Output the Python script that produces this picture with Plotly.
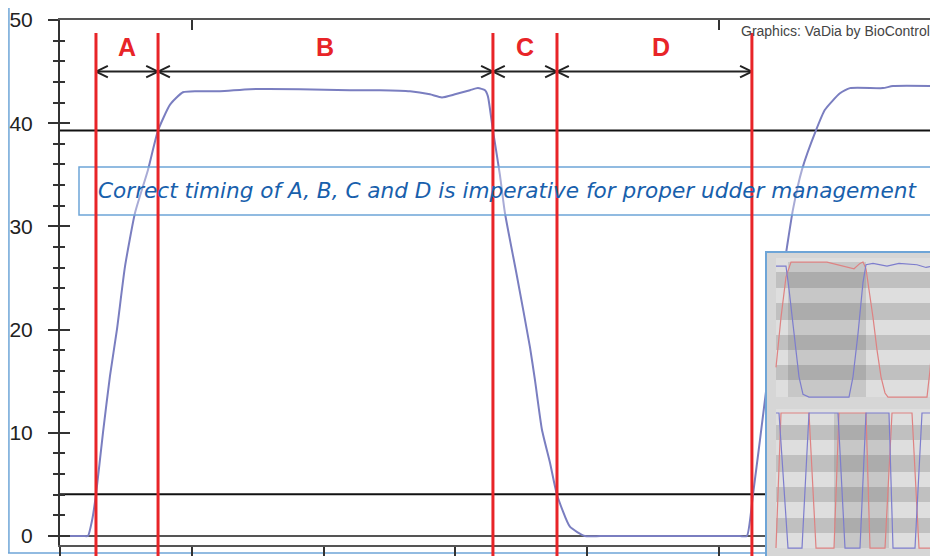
import plotly.graph_objects as go

# main trace: flow value over time (x in chart units, 10 per major tick)
time = [0, 1.0, 1.8, 2.12, 2.43, 2.73, 3.26, 3.79, 4.32, 4.93, 5.69, 6.68, 7.44, 8.35, 9.33,
        10.39, 12.14, 14.42, 18.21, 22.0, 24.28, 26.56, 28.07, 28.98, 29.97, 31.11,
        31.71, 32.25, 32.47, 32.85, 33.38, 33.76, 34.67, 35.66, 36.04, 36.57, 37.18,
        37.71, 38.69, 39.83, 41.0, 44.0, 48.0, 50.5, 51.6, 52.12, 52.58, 53.11, 54.02,
        55.16, 55.61, 56.30, 57.36, 58.04, 59.18, 59.94, 62.44, 63.20, 66.62]
value = [0, 0, 0, 0, 1.5, 4.0, 10.0, 15.5, 20.0, 26.1, 31.3, 35.5, 39.3, 41.8, 43.0,
         43.1, 43.1, 43.3, 43.3, 43.2, 43.2, 43.1, 42.8, 42.5, 42.8, 43.2,
         43.4, 43.2, 42.6, 39.3, 35.0, 31.3, 25.2, 18.3, 15.1, 10.3, 7.1,
         4.0, 0.9, 0, 0, 0, 0, 0, 0, 0, 4.0, 9.3, 18.5,
         28.0, 31.6, 35.5, 39.3, 41.3, 42.9, 43.4, 43.4, 43.6, 43.6]

phase_bounds = [2.73, 7.44, 32.85, 37.71, 52.5]
phase_names = ["A", "B", "C", "D"]
phase_label_x = [5.08, 20.1, 35.3, 45.6]
thresholds = [39.3, 4.05]

x_max = 66.62
y_min, y_max = -0.87, 50

# inset thumbnail (two small panels), x in inset units
top_x_red = [9, 14, 19, 24, 60, 87, 93, 96, 99, 103, 106, 110, 114, 118, 121, 160, 163, 166, 171]
top_y_red = [22, 59, 89, 100, 100, 95, 99, 100, 95, 75, 59, 35, 15, 3, 0, 0, 20, 47, 90]
top_x_blue = [9, 19, 22, 27, 32, 36, 42, 82, 86, 91, 96, 99, 106, 120, 132, 150, 159, 171]
top_y_blue = [97, 97, 80, 45, 15, 2, 0, 0, 15, 47, 85, 98, 99, 97, 99, 98, 96, 98]
bot_x_red = [9, 14, 42, 49, 67, 72, 99, 103, 118, 125, 145, 152, 171]
bot_y_red = [0, 100, 100, 0, 0, 100, 100, 0, 0, 100, 100, 0, 0]
bot_x_blue = [9, 12, 21, 35, 42, 71, 78, 93, 99, 122, 126, 148, 155, 171]
bot_y_blue = [100, 100, 0, 0, 100, 100, 0, 0, 100, 100, 0, 0, 100, 100]
top_bands = [[12.6, 23.7], [34.8, 45.9], [57.0, 69.6], [80.7, 92.6]]
bot_bands = [[11.1, 22.2], [34.1, 45.2], [56.3, 68.9], [80.0, 91.1]]
top_shade = [21, 99]
bot_shade = [67, 122]

RED = "rgb(232,36,40)"
BORDER = "rgb(110,165,215)"

# page has an 8px body margin, so the figure is 930x548 placed at (8, 8)
W, H = 930, 548


def fx(px):
    return (px - 8) / W


def fy(py):
    return (556 - py) / H


fig = go.Figure()

fig.add_trace(go.Scatter(
    x=time, y=value, mode="lines",
    line=dict(color="rgb(122,126,192)", width=2, shape="spline", smoothing=0.5),
    hoverinfo="skip", showlegend=False
))

# double-headed arrows between phase boundaries
arrow_y, dx, dy = 45.0, 0.9, 0.55
ax, ay = [], []
for x0, x1 in zip(phase_bounds[:-1], phase_bounds[1:]):
    ax += [x0, x1, None, x0 + dx, x0, x0 + dx, None, x1 - dx, x1, x1 - dx, None]
    ay += [arrow_y, arrow_y, None, arrow_y + dy, arrow_y, arrow_y - dy, None,
           arrow_y + dy, arrow_y, arrow_y - dy, None]
fig.add_trace(go.Scatter(x=ax, y=ay, mode="lines", line=dict(color="#222", width=2),
                         hoverinfo="skip", showlegend=False))

# empty traces for the overlay axes (inside ticks)
fig.add_trace(go.Scatter(x=[None], y=[None], yaxis="y2", showlegend=False))
fig.add_trace(go.Scatter(x=[None], y=[None], xaxis="x5", showlegend=False))

# inset curves
for xs, ys, c, xa, ya in [
    (top_x_red, top_y_red, "rgb(222,130,130)", "x3", "y3"),
    (top_x_blue, top_y_blue, "rgb(125,125,205)", "x3", "y3"),
    (bot_x_red, bot_y_red, "rgb(222,130,130)", "x4", "y4"),
    (bot_x_blue, bot_y_blue, "rgb(125,125,205)", "x4", "y4"),
]:
    fig.add_trace(go.Scatter(x=xs, y=ys, mode="lines", xaxis=xa, yaxis=ya,
                             line=dict(color=c, width=1.2),
                             hoverinfo="skip", showlegend=False))

shapes = []
for t in thresholds:
    shapes.append(dict(type="line", xref="x", yref="y", x0=0, x1=x_max, y0=t, y1=t,
                       line=dict(color="#111", width=2), layer="below"))

# callout box
shapes.append(dict(type="rect", xref="paper", yref="paper",
                   x0=fx(79), x1=fx(934), y0=fy(215), y1=fy(167),
                   fillcolor="rgba(255,255,255,0.35)", line=dict(color=BORDER, width=1.5),
                   layer="above"))

for b in phase_bounds:
    shapes.append(dict(type="line", xref="x", yref="paper", x0=b, x1=b,
                       y0=0, y1=fy(33), line=dict(color=RED, width=3),
                       layer="above"))

# inset backgrounds
for xa, ya, yr, bands, shade in [
    ("x3", "y3", [-4.4, 106.7], top_bands, top_shade),
    ("x4", "y4", [-5.9, 107.4], bot_bands, bot_shade),
]:
    shapes.append(dict(type="rect", xref=xa, yref=ya, x0=0, x1=171, y0=yr[0], y1=yr[1],
                       fillcolor="rgb(214,214,214)", line_width=0, layer="below"))
    shapes.append(dict(type="rect", xref=xa, yref=ya, x0=9, x1=171, y0=0, y1=103,
                       fillcolor="rgb(222,222,222)", line_width=0, layer="below"))
    for b0, b1 in bands:
        shapes.append(dict(type="rect", xref=xa, yref=ya, x0=9, x1=171, y0=b0, y1=b1,
                           fillcolor="rgb(192,192,192)", line_width=0, layer="below"))
    shapes.append(dict(type="rect", xref=xa, yref=ya, x0=shade[0], x1=shade[1], y0=0, y1=100,
                       fillcolor="rgba(0,0,0,0.10)", line_width=0, layer="below"))

# inset frame
shapes.append(dict(type="rect", xref="paper", yref="paper", x0=fx(766), x1=1.01,
                   y0=-0.01, y1=fy(252), line=dict(color=BORDER, width=2),
                   layer="above"))
# outer frame of the picture (top/left edges sit in the page margin)
shapes.append(dict(type="line", xref="paper", yref="paper", x0=0.001, x1=0.001,
                   y0=fy(553), y1=1, line=dict(color=BORDER, width=1.5), layer="below"))
shapes.append(dict(type="line", xref="paper", yref="paper", x0=0, x1=1,
                   y0=fy(553), y1=fy(553), line=dict(color=BORDER, width=1.5), layer="below"))

annotations = [
    dict(x=lx, y=47.4, xref="x", yref="y", text="<b>%s</b>" % n, showarrow=False,
         font=dict(family="Arial, Liberation Sans", size=25, color=RED))
    for n, lx in zip(phase_names, phase_label_x)
]
annotations.append(dict(
    x=fx(96), y=fy(191), xref="paper", yref="paper", xanchor="left",
    yanchor="middle", showarrow=False,
    text="<i>Correct timing of A, B, C and D is imperative for proper udder management</i>",
    font=dict(family="DejaVu Sans", size=21.6, color="rgb(24,96,172)")
))
annotations.append(dict(
    x=fx(739), y=fy(31), xref="paper", yref="paper", xanchor="left",
    yanchor="middle", showarrow=False, text="Graphics: VaDia by BioControl",
    font=dict(family="Arial, Liberation Sans", size=14, color="#444")
))

fig.update_layout(
    width=W, height=H, autosize=False,
    margin=dict(l=0, r=0, t=0, b=0),
    paper_bgcolor="white", plot_bgcolor="white",
    showlegend=False, hovermode=False,
    xaxis=dict(domain=[fx(60), 1], range=[0, x_max], showgrid=False, zeroline=False,
               showline=True, linecolor="#555", linewidth=2, mirror=True,
               ticks="outside", ticklen=11, tickwidth=2, tickcolor="#333",
               tick0=0, dtick=10, showticklabels=False, automargin=False),
    xaxis5=dict(overlaying="x", anchor="y", side="top", range=[0, x_max],
                showgrid=False, zeroline=False, showline=False,
                ticks="inside", ticklen=10, tickwidth=2, tickcolor="#333",
                tickvals=[10, 50], showticklabels=False, automargin=False),
    yaxis=dict(domain=[fy(545), fy(20)], range=[y_min, y_max], showgrid=False,
               zeroline=True, zerolinecolor="#555", zerolinewidth=2,
               showline=True, linecolor="#333", linewidth=2,
               ticks="outside", ticklen=10, tickwidth=2, tickcolor="#333",
               tick0=0, dtick=10, ticklabelstandoff=11, automargin=False,
               tickfont=dict(family="Arial, Liberation Sans", size=21, color="#222"),
               minor=dict(ticks="outside", ticklen=5, tickwidth=2, tickcolor="#333", dtick=2)),
    yaxis2=dict(overlaying="y", anchor="x", side="left", range=[y_min, y_max],
                showgrid=False, zeroline=False, showline=False,
                ticks="inside", ticklen=10, tickwidth=2, tickcolor="#333",
                tick0=0, dtick=10, showticklabels=False, automargin=False,
                minor=dict(ticks="inside", ticklen=5, tickwidth=2, tickcolor="#333", dtick=2)),
    xaxis3=dict(domain=[fx(767), 1], anchor="y3", range=[0, 171], visible=False),
    yaxis3=dict(domain=[fy(403), fy(253)], anchor="x3", range=[-4.4, 106.7], visible=False),
    xaxis4=dict(domain=[fx(767), 1], anchor="y4", range=[0, 171], visible=False),
    yaxis4=dict(domain=[0, fy(403)], anchor="x4", range=[-5.9, 107.4], visible=False),
    shapes=shapes,
    annotations=annotations,
)

fig.write_html("out.html")
